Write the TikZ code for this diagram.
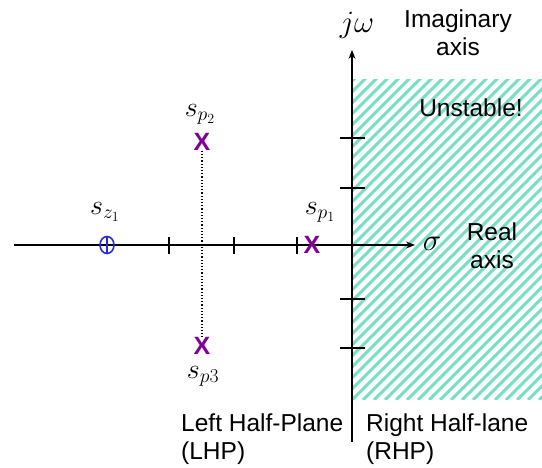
\RequirePackage{fix-cm}
\documentclass[tikz,border=0pt]{standalone}
\usepackage{fontspec}
\setmainfont{Liberation Sans}
\usetikzlibrary{arrows.meta,shapes.geometric}
\definecolor{hatchgreen}{RGB}{120,222,198}
\definecolor{polepurple}{RGB}{128,0,150}
\definecolor{zeroblue}{RGB}{40,40,220}
\tikzset{
    axis/.style={line width=1.4pt,-{Stealth[length=9pt,width=7pt]}},
    tick/.style={line width=1.2pt},
    pole/.style={text=polepurple,font=\fontsize{25}{25}\selectfont\bfseries,inner sep=0pt},
    zero/.style={ellipse,draw=zeroblue,line width=1.6pt,minimum width=14pt,minimum height=17pt,inner sep=0pt},
    lbl/.style={font=\fontsize{24.5}{28}\selectfont,inner sep=0pt},
    sym/.style={font=\fontsize{28}{28}\selectfont,inner sep=0pt}
}
\begin{document}
\begin{tikzpicture}[x=1pt,y=-1pt]
        \useasboundingbox (0,0) rectangle (542,468);

        % Unstable region (RHP)
        \begin{scope}
            \clip (352,80) rectangle (542,400);
            \foreach \i in {-330,-319,...,542}
            {
                \draw[hatchgreen,line width=3pt] (\i,400) -- ++(330,-330);
            }
        \end{scope}

        % Axes
        \coordinate (origin) at (352,245);
        \coordinate (xstart) at (14,245);
        \coordinate (xend) at (415,245);
        \coordinate (ystart) at (352,442);
        \coordinate (yend) at (352,50);
        \draw[axis] (xstart) -- (xend);
        \draw[axis] (ystart) -- (yend);

        % Ticks
        \foreach \y in {138,188,299,348}
            \draw[tick] (340,\y) -- (365,\y);
        \foreach \x in {169,234,297}
            \draw[tick] (\x,237) -- (\x,254);

        % Poles and zero
        \node[pole] (p1) at (312,245) {X};
        \node[pole] (p2) at (202,142) {X};
        \node[pole] (p3) at (202,346) {X};
        \node[zero] (z1) at (107,245) {};
        \draw[zeroblue,line width=1.4pt] (z1.north) -- (z1.south);
        \draw[line width=1.2pt,dotted] (p2) -- (p3);

        \node[sym] (p1lbl) at (320,212) {$s_{p_1}$};
        \node[sym] (p2lbl) at (200,114) {$s_{p_2}$};
        \node[sym,anchor=north] (p3lbl) at (203,366) {$s_{p3}$};
        \node[sym] (z1lbl) at (105,212) {$s_{z_1}$};

        % Labels
        \node[sym,font=\fontsize{31}{31}\selectfont] (jw) at (357,25) {$j\omega$};
        \node[sym,font=\fontsize{31}{31}\selectfont] (sigma) at (432,244) {$\sigma$};
        \node[lbl,align=center] (imag) at (458,33) {Imaginary\\axis};
        \node[lbl,align=center] (real) at (492,246) {Real\\axis};
        \node[lbl] (unstable) at (471,108) {Unstable!};
        \node[lbl,align=left,anchor=north west] (lhp) at (181,414) {Left Half-Plane\\(LHP)};
        \node[lbl,align=left,anchor=north west] (rhp) at (366,414) {Right Half-lane\\(RHP)};

    \end{tikzpicture}
\end{document}
